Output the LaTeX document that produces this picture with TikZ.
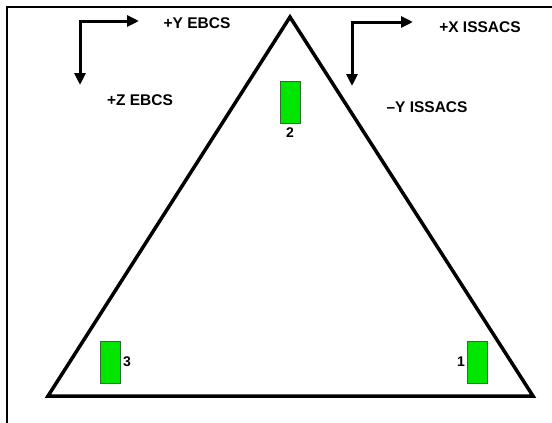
\documentclass[tikz,border=0pt]{standalone}
\usepackage{fontspec}
\setmainfont{Liberation Sans}
\usetikzlibrary{positioning,arrows.meta}
\definecolor{sensorVerde}{HTML}{00E600}
\definecolor{sensorBorde}{HTML}{2F6A2F}
\colorlet{colTrazo}{black}

\begin{document}
\begin{tikzpicture}[x=1pt, y=-1pt,
    font=\bfseries\fontsize{15.5}{17}\selectfont,
    sensor/.style={draw=sensorBorde, fill=sensorVerde, line width=0.8pt,
      minimum width=20pt, minimum height=42pt, inner sep=0pt},
    numero/.style={inner sep=1pt, font=\bfseries\fontsize{14}{16}\selectfont},
    ejes/.style={line width=3pt, colTrazo,
      {Triangle[length=12pt,width=11pt]}-{Triangle[length=12pt,width=11pt]}}]
        \useasboundingbox (0,0) rectangle (552,423);

        % Marco
        \draw[line width=2.5pt, colTrazo] (7,423) -- (7,7) -- (552,7);

        % Triangulo
        \coordinate (vSup) at (290,17);
        \coordinate (vDer) at (533,396);
        \coordinate (vIzq) at (48,396);
        \draw[line width=3.5pt, colTrazo, line join=miter] (vSup) -- (vDer) -- (vIzq) -- cycle;

        % Sensores
        \node[sensor] (s2) at (290,102) {};
        \node[sensor] (s3) at (110.5,362) {};
        \node[sensor] (s1) at (477.5,362) {};
        \node[numero, below=3pt of s2] (n2) {2};
        \node[numero, right=1pt of s3] (n3) {3};
        \node[numero, left=1pt of s1] (n1) {1};

        % Ejes EBCS
        \coordinate (zEbcs) at (80,85);
        \coordinate (oEbcs) at (80,21);
        \coordinate (yEbcs) at (139,21);
        \draw[ejes] (zEbcs) -- (oEbcs) -- (yEbcs);
        \node (tY) at (197,23) {+Y EBCS};
        \node (tZ) at (140,100) {+Z EBCS};

        % Ejes ISSACS
        \coordinate (yIss) at (352,86);
        \coordinate (oIss) at (352,22);
        \coordinate (xIss) at (413,22);
        \draw[ejes] (yIss) -- (oIss) -- (xIss);
        \node (tX) at (480,27) {+X ISSACS};
        \node (tMY) at (427,107) {–Y ISSACS};
    \end{tikzpicture}
\end{document}
